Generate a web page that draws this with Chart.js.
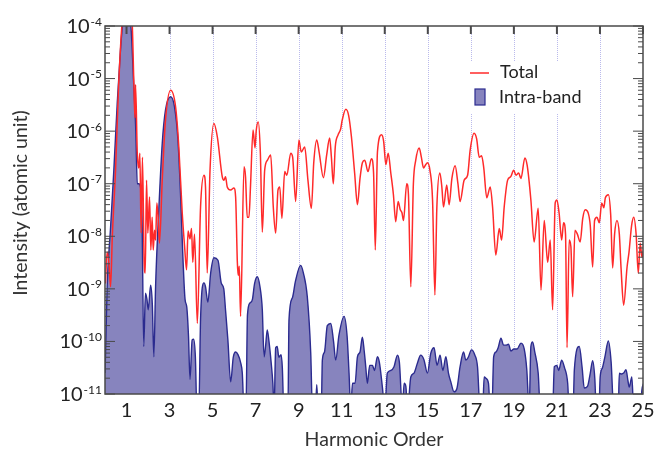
<!DOCTYPE html>
<html>
<head>
<meta charset="utf-8">
<script src="https://cdn.jsdelivr.net/npm/chart.js@4.4.1/dist/chart.umd.min.js"></script>
<style>
  html, body { margin: 0; padding: 0; background: #fff; }
  #wrap { width: 672px; height: 449px; }
</style>
</head>
<body>
<div id="wrap"><canvas id="hhgChart" width="672" height="449"></canvas></div>
<script>
// harmonic order ticks and labels
const xTicks = [1, 3, 5, 7, 9, 11, 13, 15, 17, 19, 21, 23, 25];
const yDecades = [1e-4, 1e-5, 1e-6, 1e-7, 1e-8, 1e-9, 1e-10, 1e-11];
const yExponents = ['-4', '-5', '-6', '-7', '-8', '-9', '-10', '-11'];

// Total
const totalX = [0.02, 0.1, 0.18, 0.26, 0.34, 0.49, 0.63, 0.8, 1.0, 1.26, 1.34, 1.39, 1.42, 1.5, 1.57, 1.62, 1.68, 1.74, 1.82, 1.87,
  1.93, 1.99, 2.07, 2.13, 2.19, 2.24, 2.3, 2.35, 2.41, 2.47, 2.53, 2.66, 2.81, 3.05, 3.28, 3.43, 3.59, 3.7, 3.79, 3.86,
  3.95, 4.02, 4.08, 4.16, 4.29, 4.44, 4.6, 4.67, 4.75, 4.88, 5.06, 5.22, 5.45, 5.53, 5.6, 5.68, 5.84, 5.99, 6.07, 6.15,
  6.19, 6.24, 6.3, 6.46, 6.53, 6.61, 6.69, 6.76, 6.88, 6.97, 7.03, 7.12, 7.22, 7.31, 7.42, 7.55, 7.7, 7.82, 7.93, 8.04,
  8.12, 8.22, 8.35, 8.45, 8.63, 8.72, 8.86, 9.01, 9.12, 9.28, 9.43, 9.59, 9.7, 9.84, 9.95, 10.15, 10.3, 10.44, 10.52, 10.61,
  10.7, 10.83, 10.95, 11.02, 11.19, 11.32, 11.45, 11.6, 11.73, 11.85, 11.96, 12.07, 12.22, 12.38, 12.48, 12.56, 12.66, 12.85, 12.95, 13.05,
  13.16, 13.28, 13.4, 13.51, 13.62, 13.72, 13.8, 13.87, 14.02, 14.1, 14.21, 14.33, 14.44, 14.6, 14.7, 14.8, 14.9, 14.98, 15.1, 15.22,
  15.33, 15.42, 15.56, 15.65, 15.73, 15.88, 15.99, 16.12, 16.27, 16.4, 16.5, 16.69, 16.85, 16.97, 17.15, 17.27, 17.39, 17.5, 17.6, 17.74,
  17.9, 18.01, 18.16, 18.32, 18.43, 18.55, 18.71, 18.85, 18.99, 19.1, 19.22, 19.33, 19.51, 19.62, 19.79, 19.94, 20.13, 20.26, 20.41, 20.57,
  20.69, 20.8, 20.92, 21.0, 21.1, 21.22, 21.31, 21.4, 21.47, 21.57, 21.65, 21.73, 21.84, 21.95, 22.08, 22.2, 22.32, 22.45, 22.55, 22.66,
  22.75, 22.86, 22.97, 23.08, 23.18, 23.25, 23.39, 23.5, 23.59, 23.68, 23.79, 23.9, 23.98, 24.1, 24.26, 24.35, 24.47, 24.57, 24.68, 24.78,
  24.87, 24.95, 25.03];
const totalY = [1.26e-9, 5e-9, 3.2e-9, 1.1e-9, 1e-8, 1.8e-7, 6.9e-6, 1.26e-4, 6.3e-4, 1.26e-4, 8.3e-6, 1.8e-6, 7.6e-6, 3.8e-7, 2e-7, 3.8e-7, 1.15e-8, 3.2e-7, 3.2e-9, 2e-9,
  1.17e-7, 1.15e-8, 5.6e-8, 5.5e-9, 2.3e-8, 5.5e-9, 1.3e-8, 8.5e-9, 4.3e-8, 2.3e-8, 7.4e-9, 1.17e-7, 1.6e-6, 6e-6, 2.9e-6, 5e-7, 2.75e-8, 6.3e-9, 2.3e-9, 1.26e-8,
  8.9e-9, 1.4e-8, 3.2e-9, 1.1e-8, 2.2e-10, 3.6e-8, 1.45e-7, 8.7e-8, 2e-9, 1.8e-7, 1.4e-6, 7.8e-7, 1.35e-7, 1.17e-7, 1.35e-7, 8.7e-8, 7.6e-8, 8.3e-8, 5.6e-8, 3.2e-9,
  1.8e-9, 2.7e-9, 3e-10, 2.1e-7, 1.35e-7, 2.3e-8, 2.3e-8, 8.7e-8, 1.05e-6, 4.8e-7, 1.05e-6, 1.5e-6, 3.8e-7, 1.2e-8, 1.8e-7, 2.8e-7, 3.5e-7, 3.6e-8, 1.15e-8, 7.6e-8,
  8.7e-8, 2.2e-8, 1.7e-7, 1.45e-7, 3.8e-7, 3.2e-7, 4.6e-8, 6.8e-7, 4e-7, 5e-7, 1.17e-7, 3.4e-8, 2.5e-7, 6.8e-7, 4e-7, 1.3e-7, 3.5e-7, 7.4e-7, 3.2e-7, 1e-7,
  5e-7, 8.5e-7, 1.1e-6, 1.6e-6, 2.6e-6, 2e-6, 7.9e-7, 1.6e-7, 4e-8, 1.26e-7, 2.5e-7, 2.8e-7, 1.7e-7, 3e-7, 1.6e-7, 5.5e-9, 4e-7, 8.5e-7, 6.3e-7, 2.3e-7,
  3.8e-7, 1.6e-7, 6.3e-8, 1.9e-8, 4.6e-8, 3.2e-8, 2.8e-8, 2e-8, 1e-7, 6.3e-8, 1.1e-9, 1e-7, 2.8e-7, 4.8e-7, 3.2e-7, 2e-7, 2.3e-7, 2.5e-7, 1.8e-7, 5e-8,
  7.6e-10, 3.5e-8, 1.6e-7, 8.9e-8, 3.6e-8, 9.5e-8, 4e-8, 1.26e-7, 2.2e-7, 1e-7, 4.6e-8, 1.17e-7, 1.45e-7, 4.4e-7, 9.1e-7, 7.1e-7, 3.2e-7, 3.4e-7, 2e-7, 5.4e-8,
  8.7e-8, 3.6e-8, 4.4e-9, 1.4e-8, 8.5e-9, 3.6e-8, 1.17e-7, 1.35e-7, 1.8e-7, 1.45e-7, 1.6e-7, 1.26e-7, 3.1e-7, 2.2e-7, 4.9e-8, 7.8e-9, 3.4e-8, 9.5e-10, 2e-8, 3.2e-9,
  8.5e-9, 4e-10, 4.3e-8, 4.9e-8, 2.8e-8, 8.5e-9, 1.8e-8, 1.1e-8, 7.6e-11, 8.5e-9, 6.3e-9, 7.1e-10, 1.3e-8, 1.1e-8, 7.8e-9, 2.2e-8, 3.2e-8, 2.8e-8, 1.6e-8, 2.6e-9,
  2e-8, 2.3e-8, 1.8e-8, 4.3e-8, 3.5e-8, 5.4e-8, 6.2e-8, 2.5e-8, 2.5e-9, 1.1e-8, 2e-8, 1.1e-8, 2.5e-9, 4.9e-10, 2.6e-9, 5e-9, 1.6e-8, 2.3e-8, 1.1e-8, 2e-9,
  7.4e-9, 4e-9, 5.5e-9];

// Intra-band
const intraX = [0.0, 0.04, 0.1, 0.26, 0.41, 0.57, 0.72, 0.85, 1.0, 1.15, 1.22, 1.34, 1.43, 1.5, 1.57, 1.65, 1.72, 1.8, 1.88, 1.95,
  2.01, 2.12, 2.2, 2.27, 2.35, 2.5, 2.66, 2.81, 3.05, 3.23, 3.39, 3.51, 3.62, 3.72, 3.8, 3.88, 3.95, 4.05, 4.12, 4.2,
  4.27, 4.36, 4.44, 4.6, 4.67, 4.78, 4.91, 5.06, 5.25, 5.4, 5.52, 5.6, 5.71, 5.84, 5.96, 6.07, 6.18, 6.3, 6.38, 6.46,
  6.55, 6.62, 6.74, 6.85, 6.95, 7.08, 7.2, 7.31, 7.39, 7.46, 7.54, 7.62, 7.72, 7.8, 7.86, 7.93, 8.0, 8.08, 8.18, 8.24,
  8.31, 8.5, 8.55, 8.71, 8.85, 9.09, 9.22, 9.4, 9.56, 9.64, 9.78, 9.84, 9.9, 10.05, 10.1, 10.2, 10.33, 10.49, 10.62, 10.72,
  10.87, 11.11, 11.25, 11.34, 11.42, 11.5, 11.62, 11.73, 11.85, 11.96, 12.05, 12.12, 12.19, 12.3, 12.43, 12.52, 12.66, 12.75, 12.89, 13.0,
  13.12, 13.28, 13.43, 13.59, 13.68, 13.82, 13.9, 13.98, 14.06, 14.21, 14.36, 14.52, 14.67, 14.82, 14.98, 15.14, 15.29, 15.43, 15.57, 15.7,
  15.84, 15.96, 16.07, 16.22, 16.35, 16.5, 16.66, 16.77, 16.88, 17.03, 17.18, 17.31, 17.43, 17.55, 17.62, 17.7, 17.82, 17.9, 17.98, 18.06,
  18.17, 18.27, 18.4, 18.52, 18.65, 18.75, 18.86, 19.0, 19.15, 19.33, 19.48, 19.6, 19.71, 19.79, 19.87, 19.97, 20.13, 20.23, 20.8, 20.88,
  21.0, 21.08, 21.22, 21.35, 21.5, 21.57, 21.75, 21.81, 22.04, 22.17, 22.27, 22.42, 22.55, 22.66, 22.76, 22.83, 22.95, 23.01, 23.12, 23.23,
  23.39, 23.52, 23.64, 23.85, 23.9, 24.0, 24.1, 24.21, 24.3, 24.36, 24.48, 24.57, 24.8, 24.88, 24.95, 25.03];
const intraY = [2.5e-11, 1e-10, 1.1e-9, 1.5e-8, 1.8e-7, 3.5e-6, 3.5e-5, 1.6e-4, 5e-4, 1.6e-4, 8e-5, 6.9e-6, 1.05e-6, 1e-7, 1e-7, 8.7e-8, 2.5e-8, 8e-11, 8.3e-10, 6.3e-10,
  4e-10, 1.17e-9, 5e-10, 5.1e-11, 1.1e-9, 3.2e-8, 5.9e-7, 2.5e-6, 4.5e-6, 2.9e-6, 6.8e-7, 6.3e-8, 4e-9, 6.3e-10, 4.5e-10, 1.26e-10, 1.9e-11, 1.07e-10, 1.1e-10, 5e-11,
  5e-12, 5e-12, 2.6e-10, 1.3e-9, 1.1e-9, 5.6e-10, 2e-9, 3.9e-9, 3.5e-9, 1.3e-9, 1e-9, 4e-10, 1.07e-10, 1.7e-11, 5e-11, 6.3e-11, 5.6e-11, 4e-11, 2.5e-11, 5e-12,
  5e-12, 3.2e-10, 5.4e-10, 6.3e-10, 1.26e-9, 1.7e-9, 1.1e-9, 4e-10, 5.1e-11, 8e-11, 1.66e-10, 1e-10, 4e-11, 1.6e-11, 5e-12, 7.6e-11, 8e-11, 5e-11, 5.6e-11, 3.2e-11,
  5e-12, 5e-12, 2.6e-10, 6.8e-10, 1.4e-9, 2.8e-9, 2e-9, 7.1e-10, 6e-11, 5e-12, 5e-12, 1.5e-11, 5e-12, 5e-12, 4.4e-11, 6.3e-11, 2e-10, 2.2e-10, 1e-10, 4.4e-11,
  1.3e-10, 3e-10, 1.26e-10, 2.5e-11, 5e-12, 1.6e-11, 1.6e-11, 5.1e-11, 6.3e-11, 1.2e-10, 6.3e-11, 3.2e-11, 1.6e-11, 3.5e-11, 3.5e-11, 2.8e-11, 5.1e-11, 4e-11, 1.35e-11, 5e-12,
  2.5e-11, 2.8e-11, 3.3e-11, 5.5e-11, 4e-11, 5e-12, 1.6e-11, 1.4e-11, 5e-12, 2.1e-11, 2.5e-11, 3.9e-11, 5.5e-11, 4.5e-11, 2.5e-11, 6e-11, 7.6e-11, 3.5e-11, 5.5e-11, 2.8e-11,
  5.1e-11, 2.5e-11, 1.7e-11, 1.1e-11, 1.26e-11, 3.3e-11, 6.3e-11, 4.4e-11, 5e-11, 6.9e-11, 5.6e-11, 3.3e-11, 5e-12, 5e-12, 2.1e-11, 2e-11, 1.6e-11, 5e-12, 5e-12, 5.1e-11,
  6.3e-11, 7.6e-11, 1.15e-10, 8.5e-11, 8.5e-11, 8.9e-11, 6.6e-11, 7.2e-11, 7.2e-11, 9.3e-11, 7.2e-11, 2.9e-11, 5e-12, 8e-11, 9.8e-11, 6.3e-11, 2.5e-11, 5e-12, 5e-12, 3.3e-11,
  3.5e-11, 2.8e-11, 4.4e-11, 3.2e-11, 1.6e-11, 5e-12, 5e-12, 2.9e-11, 8e-11, 3.2e-11, 1.3e-11, 1.4e-11, 2.5e-11, 4.3e-11, 2e-11, 5e-12, 5e-12, 2.1e-11, 3.2e-11, 5.1e-11,
  1.02e-10, 4e-11, 5e-12, 5e-12, 2.5e-11, 2.4e-11, 2.5e-11, 2.9e-11, 1.8e-11, 1.35e-11, 2.1e-11, 5e-12, 5e-12, 5e-12, 1.2e-11, 1.6e-11];

const FONT = 'Lato, "Noto Sans", sans-serif';

function toPoints(xs, ys) {
    return xs.map((x, i) => ({ x: x, y: ys[i] }));
}

const framePlugin = {
    id: 'frame',
    beforeDatasetsDraw(chart) {
        const ctx = chart.ctx;
        const a = chart.chartArea;
        const xs = chart.scales.x;
        ctx.save();
        // dotted harmonic lines
        ctx.strokeStyle = 'rgba(130,130,220,0.55)';
        ctx.lineWidth = 1;
        ctx.setLineDash([1, 1]);
        xTicks.forEach(v => {
            if (v >= 25) return;
            const px = Math.round(xs.getPixelForValue(v)) + 0.5;
            ctx.beginPath();
            ctx.moveTo(px, a.top);
            ctx.lineTo(px, a.bottom);
            ctx.stroke();
        });
        ctx.setLineDash([]);
        // legend box background
        ctx.fillStyle = '#fff';
        ctx.fillRect(462, 61, 136, 53);
        ctx.restore();
    },
    afterDatasetsDraw(chart) {
        const ctx = chart.ctx;
        const a = chart.chartArea;
        const xs = chart.scales.x;
        const ys = chart.scales.y;
        ctx.save();

        // frame
        ctx.strokeStyle = '#4a4a4a';
        ctx.lineWidth = 1.5;
        ctx.strokeRect(a.left, a.top, a.right - a.left, a.bottom - a.top);

        // top ticks
        ctx.lineWidth = 2;
        xTicks.forEach(v => {
            const px = xs.getPixelForValue(v);
            ctx.beginPath();
            ctx.moveTo(px, a.top);
            ctx.lineTo(px, a.top + 8);
            ctx.stroke();
        });

        // log ticks left and right
        ctx.lineWidth = 1;
        yDecades.forEach((d, i) => {
            const py = ys.getPixelForValue(d);
            ctx.beginPath();
            ctx.moveTo(a.left, py); ctx.lineTo(a.left + 10, py);
            ctx.moveTo(a.right, py); ctx.lineTo(a.right - 10, py);
            ctx.stroke();
            if (i === 0) return;
            for (let m = 2; m <= 9; m++) {
                const my = ys.getPixelForValue(d * m);
                ctx.beginPath();
                ctx.moveTo(a.left, my); ctx.lineTo(a.left + 5, my);
                ctx.moveTo(a.right, my); ctx.lineTo(a.right - 5, my);
                ctx.stroke();
            }
        });

        // x tick labels
        ctx.fillStyle = '#222';
        ctx.font = '20px ' + FONT;
        ctx.textAlign = 'center';
        ctx.textBaseline = 'alphabetic';
        xTicks.forEach(v => {
            ctx.fillText(String(v), xs.getPixelForValue(v), 417);
        });

        // y tick labels 10^n
        yDecades.forEach((d, i) => {
            const py = ys.getPixelForValue(d);
            ctx.font = '12px ' + FONT;
            ctx.textAlign = 'right';
            const ew = ctx.measureText(yExponents[i]).width;
            ctx.fillText(yExponents[i], 102, py - 0.5);
            ctx.font = '20px ' + FONT;
            ctx.fillText('10', 101 - ew, py + 7);
        });

        // axis titles
        ctx.font = '19.5px ' + FONT;
        ctx.textAlign = 'center';
        ctx.fillStyle = '#333';
        ctx.fillText('Harmonic Order', (a.left + a.right) / 2, 446);
        ctx.save();
        ctx.translate(27, 203);
        ctx.rotate(-Math.PI / 2);
        ctx.fillText('Intensity (atomic unit)', 0, 0);
        ctx.restore();

        // legend
        ctx.strokeStyle = '#ff2a2a';
        ctx.lineWidth = 1.5;
        ctx.beginPath();
        ctx.moveTo(470, 73); ctx.lineTo(489, 73);
        ctx.stroke();
        ctx.fillStyle = '#8784be';
        ctx.strokeStyle = '#2b2b8f';
        ctx.lineWidth = 1.2;
        ctx.fillRect(475, 89, 10, 16);
        ctx.strokeRect(475, 89, 10, 16);
        ctx.fillStyle = '#222';
        ctx.font = '18px ' + FONT;
        ctx.textAlign = 'left';
        ctx.textBaseline = 'middle';
        ctx.fillText('Total', 500, 72);
        ctx.fillText('Intra-band', 499, 97);
        ctx.restore();
    }
};

const ctx = document.getElementById('hhgChart').getContext('2d');
const chart = new Chart(ctx, {
    type: 'line',
    data: {
        datasets: [
            {
                label: 'Total',
                data: toPoints(totalX, totalY),
                borderColor: '#ff2a2a',
                borderWidth: 1.5,
                pointRadius: 0,
                fill: false,
                cubicInterpolationMode: 'monotone',
                clip: 0
            },
            {
                label: 'Intra-band',
                data: toPoints(intraX, intraY),
                borderColor: '#2b2b8f',
                backgroundColor: '#8784be',
                borderWidth: 1.4,
                pointRadius: 0,
                fill: 'start',
                cubicInterpolationMode: 'monotone',
                clip: 0
            }
        ]
    },
    options: {
        responsive: false,
        animation: false,
        devicePixelRatio: 1,
        layout: {
            padding: { left: 105, right: 29, top: 26, bottom: 55 }
        },
        scales: {
            x: { type: 'linear', min: 0, max: 25, display: false },
            y: { type: 'logarithmic', min: 1e-11, max: 1e-4, display: false }
        },
        plugins: {
            legend: { display: false },
            tooltip: { enabled: false }
        }
    },
    plugins: [framePlugin]
});
</script>
</body>
</html>
